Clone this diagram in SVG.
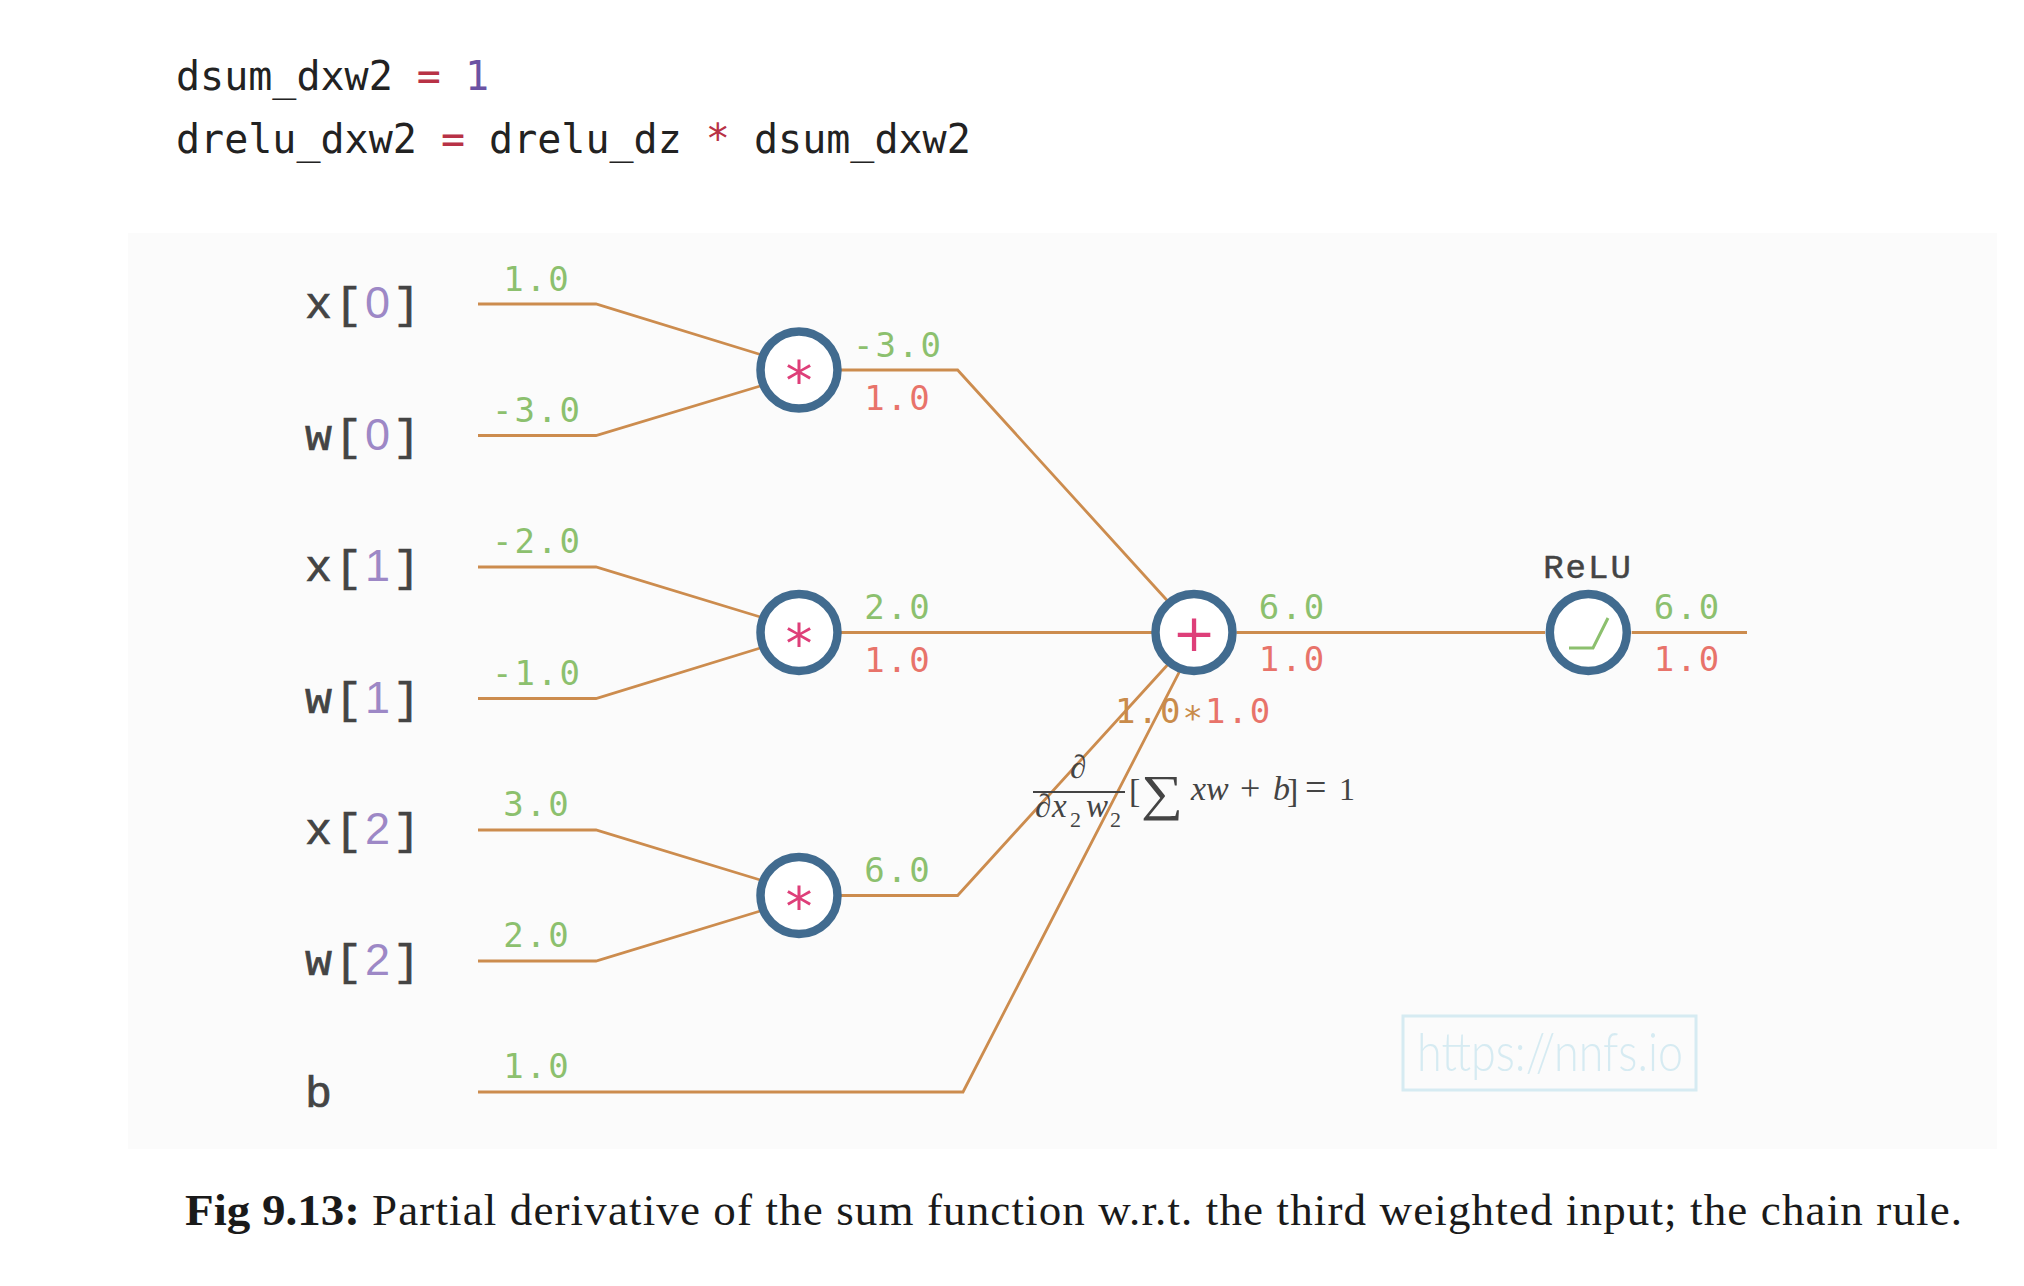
<svg xmlns="http://www.w3.org/2000/svg" width="2024" height="1286" viewBox="0 0 2024 1286">
<style>
.code{font-family:"DejaVu Sans Mono",monospace;font-size:40px;fill:#222}
.op{fill:#b83246}
.num{fill:#6b52a3}
.lbl{font-family:"Liberation Mono","DejaVu Sans Mono",monospace;font-size:45px;letter-spacing:3px;fill:#444;stroke:#444;stroke-width:0.7}
.idx{fill:#9d88c6;stroke:none;font-family:"Liberation Sans",sans-serif}
.val{font-family:"DejaVu Sans Mono",monospace;font-size:34px;letter-spacing:2px;text-anchor:middle}
.g{fill:#8cc06e}
.r{fill:#e8736a}
.o{fill:#c98b4a}
.wire{fill:none;stroke:#cc8c4e;stroke-width:2.8}
.node{fill:#fff;stroke:#416b8f;stroke-width:8.5}
.sym{font-family:"DejaVu Sans",sans-serif;fill:#de3f79;text-anchor:middle}
.math{font-family:"Liberation Serif",serif;fill:#444}
.it{font-style:italic}
.cap{font-family:"Liberation Serif",serif;font-size:45px;fill:#1a1a1a}
</style>
<rect width="2024" height="1286" fill="#ffffff"/>
<rect x="128" y="233" width="1869" height="916" fill="#fbfbfb"/>

<text class="code" x="176" y="90" xml:space="preserve">dsum_dxw2 <tspan class="op">=</tspan> <tspan class="num">1</tspan></text>
<text class="code" x="176" y="153" xml:space="preserve">drelu_dxw2 <tspan class="op">=</tspan> drelu_dz <tspan class="op">*</tspan> dsum_dxw2</text>

<g id="connectors">
<path class="wire" d="M478,304 H596 L762,355"/>
<path class="wire" d="M478,435.5 H596 L762,385.5"/>
<path class="wire" d="M478,567 H596 L762,617.5"/>
<path class="wire" d="M478,698.5 H596 L762,647.5"/>
<path class="wire" d="M478,830 H596 L762,880.5"/>
<path class="wire" d="M478,961 H596 L762,910.5"/>
<path class="wire" d="M478,1092 H963 L1180,670.7"/>
<path class="wire" d="M841,370 H957.6 L1168.3,601.7"/>
<path class="wire" d="M841,632.5 H1155.5"/>
<path class="wire" d="M841,895.5 H957.6 L1168.3,664"/>
<path class="wire" d="M1236.5,632.5 H1545"/>
<path class="wire" d="M1631.7,632.5 H1747"/>
<text class="val g" x="537" y="291">1.0</text>
<text class="val g" x="537" y="422">-3.0</text>
<text class="val g" x="537" y="553">-2.0</text>
<text class="val g" x="537" y="685">-1.0</text>
<text class="val g" x="537" y="816">3.0</text>
<text class="val g" x="537" y="947">2.0</text>
<text class="val g" x="537" y="1078">1.0</text>
<text class="val g" x="898" y="357">-3.0</text>
<text class="val r" x="898" y="410">1.0</text>
<text class="val g" x="898" y="619">2.0</text>
<text class="val r" x="898" y="672">1.0</text>
<text class="val g" x="898" y="882">6.0</text>
</g>

<g id="in-x0"><text class="lbl" x="305" y="318">x[<tspan class="idx">0</tspan>]</text></g>
<g id="in-w0"><text class="lbl" x="305" y="449.5">w[<tspan class="idx">0</tspan>]</text></g>
<g id="in-x1"><text class="lbl" x="305" y="581">x[<tspan class="idx">1</tspan>]</text></g>
<g id="in-w1"><text class="lbl" x="305" y="712.5">w[<tspan class="idx">1</tspan>]</text></g>
<g id="in-x2"><text class="lbl" x="305" y="844">x[<tspan class="idx">2</tspan>]</text></g>
<g id="in-w2"><text class="lbl" x="305" y="975">w[<tspan class="idx">2</tspan>]</text></g>
<g id="in-b"><text class="lbl" x="305" y="1107">b</text></g>

<g id="mul0"><circle class="node" cx="799" cy="370" r="38.5"/><text class="sym" x="799" y="399" style="font-size:54px">*</text></g>
<g id="mul1"><circle class="node" cx="799" cy="632.5" r="38.5"/><text class="sym" x="799" y="661.5" style="font-size:54px">*</text></g>
<g id="mul2"><circle class="node" cx="799" cy="895.5" r="38.5"/><text class="sym" x="799" y="924.5" style="font-size:54px">*</text></g>

<g id="sum">
<circle class="node" cx="1194" cy="632.5" r="38.5"/>
<text class="sym" x="1194" y="651" style="font-size:52px">+</text>
<text class="val g" x="1292.5" y="619">6.0</text>
<text class="val r" x="1292.5" y="671">1.0</text>
<text class="val" x="1115" y="723" style="text-anchor:start"><tspan class="o">1.0</tspan><tspan class="o" dy="7">*</tspan><tspan class="r" dy="-7">1.0</tspan></text>
</g>

<g id="deriv">
<text class="math it" x="1070" y="778" style="font-size:33px">∂</text>
<line x1="1033" y1="792" x2="1125" y2="792" stroke="#444" stroke-width="2"/>
<text class="math it" x="1035" y="817" style="font-size:33px">∂</text>
<text class="math it" x="1052" y="817" style="font-size:33px">x</text>
<text class="math" x="1070" y="827" style="font-size:22px">2</text>
<text class="math it" x="1086" y="817" style="font-size:33px">w</text>
<text class="math" x="1110" y="827" style="font-size:22px">2</text>
<text class="math" x="1129" y="802" style="font-size:34px">[</text>
<text class="math" x="1141" y="810" style="font-size:50px" textLength="42" lengthAdjust="spacingAndGlyphs">∑</text>
<text class="math it" x="1191" y="800" style="font-size:34px">xw</text>
<text class="math" x="1240" y="800" style="font-size:36px">+</text>
<text class="math it" x="1273" y="800" style="font-size:34px">b</text>
<text class="math" x="1287" y="802" style="font-size:34px">]</text>
<text class="math" x="1305" y="800" style="font-size:38px">=</text>
<text class="math" x="1339" y="800" style="font-size:32px">1</text>
</g>

<g id="relu">
<text class="lbl" x="1588" y="578" style="text-anchor:middle;font-size:34px;letter-spacing:2px;stroke-width:0.5">ReLU</text>
<circle class="node" cx="1588.3" cy="632.5" r="38.5"/>
<polyline points="1569,648 1593,648 1608,618" fill="none" stroke="#8cc06e" stroke-width="3"/>
<text class="val g" x="1687.5" y="619">6.0</text>
<text class="val r" x="1687.5" y="671">1.0</text>
</g>

<g id="watermark">
<rect x="1403" y="1016" width="293" height="74" fill="none" stroke="#d6ebf2" stroke-width="3"/>
<text x="1417" y="1071" font-family="Lato,sans-serif" font-weight="300" font-size="54" fill="#d6ebf2" textLength="266" lengthAdjust="spacingAndGlyphs">https://nnfs.io</text>
</g>

<text class="cap" x="185" y="1225" style="font-weight:bold" textLength="175" lengthAdjust="spacingAndGlyphs">Fig 9.13:</text>
<text class="cap" x="372" y="1225" textLength="1590" lengthAdjust="spacing">Partial derivative of the sum function w.r.t. the third weighted input; the chain rule.</text>
</svg>
